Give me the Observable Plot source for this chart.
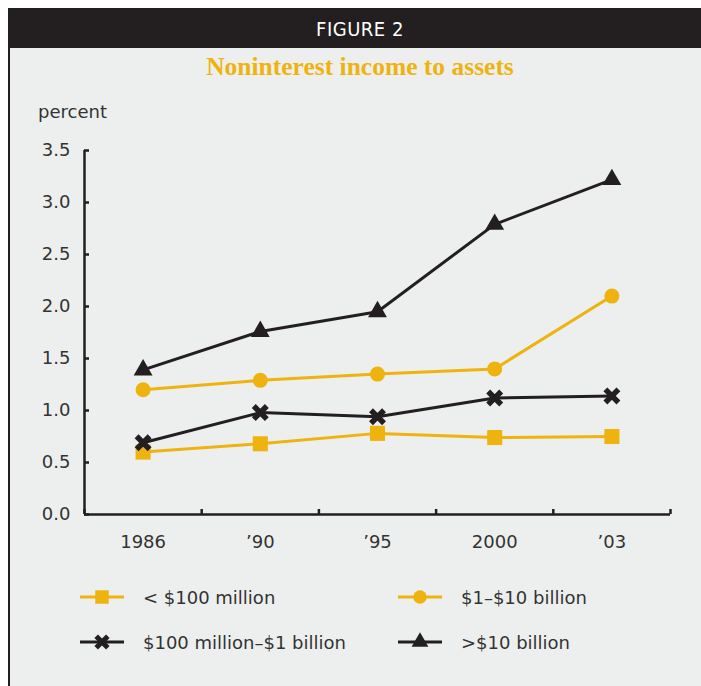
<!DOCTYPE html>
<html><head><meta charset="utf-8">
<script src="https://cdn.jsdelivr.net/npm/d3@7"></script>
<script src="https://cdn.jsdelivr.net/npm/@observablehq/plot@0.6"></script>
<style>
body{margin:0;background:#fff;width:701px;height:686px;position:relative;overflow:hidden;font-family:"DejaVu Sans",sans-serif;color:#333;}
#header{position:absolute;left:8px;top:8px;width:693px;height:40px;background:#231f20;}
#headtext{position:absolute;left:8px;top:8px;width:704px;height:40px;color:#fff;font-family:"Liberation Sans Narrow","DejaVu Sans Condensed",sans-serif;font-size:20px;line-height:42px;text-align:center;letter-spacing:0.5px;}
#panel{position:absolute;left:8px;top:48px;width:693px;height:638px;background:#edefee;border-left:2px solid #231f20;box-sizing:border-box;}
#title{position:absolute;left:8px;width:704px;top:52px;text-align:center;font-family:"Liberation Serif",serif;font-weight:bold;font-size:25.5px;color:#efb30f;}
#unit{position:absolute;left:38px;top:101px;font-size:18px;}
#chart{position:absolute;left:0;top:90px;}
.li{position:absolute;height:22px;display:flex;align-items:center;font-size:18px;white-space:nowrap;}
.li svg{margin-right:19px;}
</style></head>
<body>
<div id="header"></div>
<div id="panel"></div>
<div id="headtext">FIGURE 2</div>
<div id="title">Noninterest income to assets</div>
<div id="unit">percent</div>
<div id="chart"></div>
<div id="legend"></div>
<script>
const years = ["1986", "’90", "’95", "2000", "’03"];
const seriesNames = ["< $100 million", "$1–$10 billion", "$100 million–$1 billion", ">$10 billion"];
const under100m = [0.60, 0.68, 0.78, 0.74, 0.75];
const b1to10 = [1.20, 1.29, 1.35, 1.40, 2.10];
const m100to1b = [0.69, 0.98, 0.94, 1.12, 1.14];
const over10b = [1.39, 1.76, 1.95, 2.79, 3.22];
const yTicks = [0, 0.5, 1.0, 1.5, 2.0, 2.5, 3.0, 3.5];

const YEL = "#efb30f", BLK = "#231f20";
const series = [
  {name: seriesNames[0], values: under100m, color: YEL, symbol: "square", r: 8.5},
  {name: seriesNames[1], values: b1to10, color: YEL, symbol: "circle", r: 7.5},
  {name: seriesNames[2], values: m100to1b, color: BLK, symbol: "times", r: 6},
  {name: seriesNames[3], values: over10b, color: BLK, symbol: "triangle", r: 7}
];

const idx = d3.range(years.length);
const bounds = d3.range(years.length + 1).map(i => i - 0.5);

const marks = [
  Plot.ruleX([-0.5], {stroke: BLK, strokeWidth: 2.5}),
  Plot.ruleY([0], {stroke: BLK, strokeWidth: 2.5}),
  Plot.axisY({ticks: yTicks, tickSize: 5, dx: 5, fill: "none", stroke: BLK, strokeWidth: 2.5, label: null}),
  Plot.axisY({ticks: yTicks, tickSize: 0, tickPadding: 14, tickFormat: d => d.toFixed(1), fill: "#333", label: null}),
  Plot.axisX({ticks: bounds, tickSize: 5, dy: -5, fill: "none", stroke: BLK, strokeWidth: 2.5, label: null}),
  Plot.axisX({ticks: idx, tickSize: 0, tickPadding: 21, tickFormat: i => years[i], fill: "#333", label: null})
];
for (const s of series) {
  const data = idx.map(i => ({i, v: s.values[i]}));
  marks.push(Plot.line(data, {x: "i", y: "v", stroke: s.color, strokeWidth: 3}));
}
for (const s of series) {
  const data = idx.map(i => ({i, v: s.values[i]}));
  if (s.symbol === "times")
    marks.push(Plot.dot(data, {x: "i", y: "v", symbol: "times", r: s.r, stroke: s.color, strokeWidth: 5.5, fill: "none"}));
  else
    marks.push(Plot.dot(data, {x: "i", y: "v", symbol: s.symbol, r: s.r, fill: s.color, stroke: "none"}));
}

const chart = Plot.plot({
  width: 701, height: 480,
  marginTop: 60, marginBottom: 56, marginLeft: 84, marginRight: 31,
  style: {background: "transparent", fontFamily: "DejaVu Sans", fontSize: "18px", color: "#333", overflow: "visible"},
  x: {type: "linear", domain: [-0.5, years.length - 0.5], label: null},
  y: {domain: [0, 3.5], label: null},
  marks
});
document.getElementById("chart").appendChild(chart);

// legend
const symTypes = {square: d3.symbolSquare, circle: d3.symbolCircle, times: d3.symbolTimes, triangle: d3.symbolTriangle};
const legend = d3.select("#legend");
const colLeft = [80, 398], rowMid = [597, 642];
series.forEach((s, k) => {
  const col = k % 2, row = Math.floor(k / 2);
  const item = legend.append("div").attr("class", "li")
    .style("left", colLeft[col] + "px").style("top", (rowMid[row] - 11) + "px");
  const svg = item.append("svg").attr("width", 44).attr("height", 22);
  svg.append("line").attr("x1", 0).attr("x2", 44).attr("y1", 11).attr("y2", 11)
    .attr("stroke", s.color).attr("stroke-width", 3);
  const p = svg.append("path").attr("transform", "translate(22,11)")
    .attr("d", d3.symbol(symTypes[s.symbol], Math.PI * s.r * s.r * 0.8)());
  if (s.symbol === "times") p.attr("fill", "none").attr("stroke", s.color).attr("stroke-width", 5);
  else p.attr("fill", s.color);
  item.append("span").text(s.name);
});
</script>
</body></html>
